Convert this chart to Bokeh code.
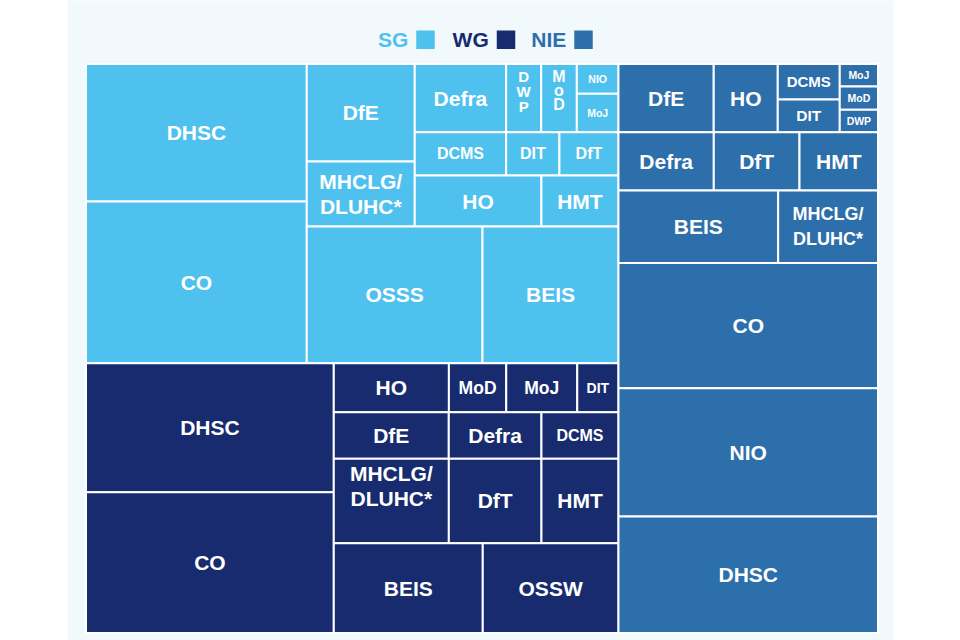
from bokeh.plotting import figure
from bokeh.models import Range1d, ColumnDataSource
from bokeh.core.properties import value
from bokeh.embed import file_html
from bokeh.resources import INLINE

# ---------------- data ----------------
nations = ["SG", "WG", "NIE"]

sg_departments = ["DHSC", "CO", "DfE", "MHCLG/DLUHC*", "Defra", "DWP", "MoD", "NIO",
                  "MoJ", "DCMS", "DIT", "DfT", "HO", "HMT", "OSSS", "BEIS"]
sg_values = [303.6, 357.0, 105.3, 70.2, 62.3, 23.9, 24.3, 12.4,
             16.0, 39.6, 23.1, 25.6, 64.6, 39.3, 240.2, 185.9]

wg_departments = ["DHSC", "CO", "HO", "MoD", "MoJ", "DIT", "DfE", "Defra", "DCMS",
                  "MHCLG/DLUHC*", "DfT", "HMT", "BEIS", "OSSW"]
wg_values = [319.7, 348.9, 56.4, 28.1, 34.8, 20.2, 53.6, 43.2, 35.9,
             97.1, 78.2, 65.0, 133.8, 121.9]

nie_departments = ["DfE", "HO", "DCMS", "DIT", "MoJ", "MoD", "DWP", "Defra", "DfT",
                   "HMT", "BEIS", "MHCLG/DLUHC*", "CO", "NIO", "DHSC"]
nie_values = [65.0, 43.7, 22.0, 20.3, 8.6, 8.9, 8.6, 55.6, 50.0,
              45.8, 115.5, 72.2, 325.4, 332.9, 302.3]

# ---------------- styling ----------------
COLORS = {"SG": "#4FC1EF", "WG": "#172B6E", "NIE": "#2D6FAA"}
PANEL_BG = "#F2F9FD"
FONT = "Liberation Sans"

# treemap arrangement (which groups are stacked / side by side)
def H(*kids):
    return {"dir": "h", "kids": list(kids)}

def V(*kids):
    return {"dir": "v", "kids": list(kids)}

SG_TREE = H(V("DHSC", "CO"),
            V(H(V("DfE", "MHCLG/DLUHC*"),
                V(H("Defra", "DWP", "MoD", V("NIO", "MoJ")),
                  H("DCMS", "DIT", "DfT"),
                  H("HO", "HMT"))),
              H("OSSS", "BEIS")))
WG_TREE = H(V("DHSC", "CO"),
            V(H("HO", "MoD", "MoJ", "DIT"),
              H("DfE", "Defra", "DCMS"),
              H("MHCLG/DLUHC*", "DfT", "HMT"),
              H("BEIS", "OSSW")))
NIE_TREE = V(H("DfE", "HO", V("DCMS", "DIT"), V("MoJ", "MoD", "DWP")),
             H("Defra", "DfT", "HMT"),
             H("BEIS", "MHCLG/DLUHC*"),
             "CO", "NIO", "DHSC")

# label styles
DEFAULT_SIZE = 21
SIZE = {
    ("SG", "DWP"): 15, ("SG", "MoD"): 16, ("SG", "NIO"): 10.5, ("SG", "MoJ"): 10.5,
    ("SG", "DCMS"): 16, ("SG", "DIT"): 16, ("SG", "DfT"): 16,
    ("WG", "MoD"): 17.5, ("WG", "MoJ"): 17.5, ("WG", "DIT"): 14, ("WG", "DCMS"): 16,
    ("NIE", "DCMS"): 15, ("NIE", "DIT"): 15.5, ("NIE", "MoJ"): 10.5,
    ("NIE", "MoD"): 10.5, ("NIE", "DWP"): 10.5, ("NIE", "MHCLG/DLUHC*"): 18,
}
LINES = {"MHCLG/DLUHC*": ["MHCLG/", "DLUHC*"]}
LINES_CELL = {("SG", "DWP"): ["D", "W", "P"], ("SG", "MoD"): ["M", "o", "D"]}
SPACING = {("SG", "DWP"): 15, ("SG", "MoD"): 14, ("NIE", "MHCLG/DLUHC*"): 25.5}
DY = {("WG", "MHCLG/DLUHC*"): -15, ("SG", "DWP"): -7, ("SG", "MoD"): -7.5}

# page geometry (screen px; data space is 1:1 with pixels, figure at page origin)
FIG_W, FIG_H = 960, 640
PANEL_X0, PANEL_X1 = 67, 893
TOP_Y, BOTTOM_Y = 0, 640
MAP_X0, MAP_X1, MAP_Y0, MAP_Y1 = 85.5, 877.5, 63.5, 632.5
LEGEND_Y = 39.3
LEGEND_SWATCH_X = [425, 505.5, 583]
SWATCH = 18.5

# ---------------- layout computation ----------------
vals = {}
for nat, deps, vs in [("SG", sg_departments, sg_values),
                      ("WG", wg_departments, wg_values),
                      ("NIE", nie_departments, nie_values)]:
    for d, v in zip(deps, vs):
        vals[(nat, d)] = v

def bind(nat, node):
    if isinstance(node, str):
        return (nat, node)
    return {"dir": node["dir"], "kids": [bind(nat, k) for k in node["kids"]]}

TOP = H(V(bind("SG", SG_TREE), bind("WG", WG_TREE)), bind("NIE", NIE_TREE))

def total(n):
    if isinstance(n, tuple):
        return vals[n]
    return sum(total(k) for k in n["kids"])

cells = []

def place(n, x0, y0, x1, y1):
    if isinstance(n, tuple):
        cells.append((n, x0, y0, x1, y1))
        return
    t = total(n)
    pos = x0 if n["dir"] == "h" else y0
    for k in n["kids"]:
        f = total(k) / t
        if n["dir"] == "h":
            w = (x1 - x0) * f
            place(k, pos, y0, pos + w, y1)
            pos += w
        else:
            h = (y1 - y0) * f
            place(k, x0, pos, x1, pos + h)
            pos += h

place(TOP, MAP_X0, MAP_Y0, MAP_X1, MAP_Y1)

rect_src = ColumnDataSource(dict(
    left=[c[1] for c in cells], right=[c[3] for c in cells],
    top=[c[2] for c in cells], bottom=[c[4] for c in cells],
    color=[COLORS[c[0][0]] for c in cells],
))

lx, ly, lt, ls = [], [], [], []
for (key, x0, y0, x1, y1) in cells:
    nat, dep = key
    size = SIZE.get(key, DEFAULT_SIZE)
    lines = LINES_CELL.get(key, LINES.get(dep, [dep]))
    sp = SPACING.get(key, size * 1.16)
    cx = (x0 + x1) / 2
    cy = (y0 + y1) / 2 + DY.get(key, 0)
    n = len(lines)
    for i, t in enumerate(lines):
        lx.append(cx)
        ly.append(cy + (i - (n - 1) / 2) * sp)
        lt.append(t)
        ls.append(f"{size}px")
label_src = ColumnDataSource(dict(x=lx, y=ly, text=lt, size=ls))

# ---------------- figure ----------------
p = figure(width=FIG_W, height=FIG_H, output_backend="svg", toolbar_location=None,
           x_range=Range1d(PANEL_X0, PANEL_X1), y_range=Range1d(BOTTOM_Y, TOP_Y),
           x_axis_type=None, y_axis_type=None,
           min_border_left=PANEL_X0, min_border_right=FIG_W - PANEL_X1,
           min_border_top=0, min_border_bottom=0)
p.background_fill_color = PANEL_BG
p.border_fill_color = "white"
p.outline_line_color = None
p.grid.visible = False

p.quad(left="left", right="right", top="top", bottom="bottom", source=rect_src,
       fill_color="color", line_color="white", line_width=2)

p.text(x="x", y="y", text="text", source=label_src, text_color="white",
       text_font=value(FONT), text_font_style="bold", text_font_size="size",
       text_align="center", text_baseline="middle")

# legend: label then swatch
leg_src = ColumnDataSource(dict(
    sx=LEGEND_SWATCH_X,
    tx=[x - SWATCH / 2 - 8 for x in LEGEND_SWATCH_X],
    y=[LEGEND_Y] * 3,
    text=nations,
    color=[COLORS[n] for n in nations],
))
p.rect(x="sx", y="y", width=SWATCH, height=SWATCH, source=leg_src,
       fill_color="color", line_color=None)
p.text(x="tx", y="y", text="text", source=leg_src, text_color="color",
       text_font=value(FONT), text_font_style="bold", text_font_size="21px",
       text_align="right", text_baseline="middle")

open("out.html", "w").write(file_html(p, INLINE))
